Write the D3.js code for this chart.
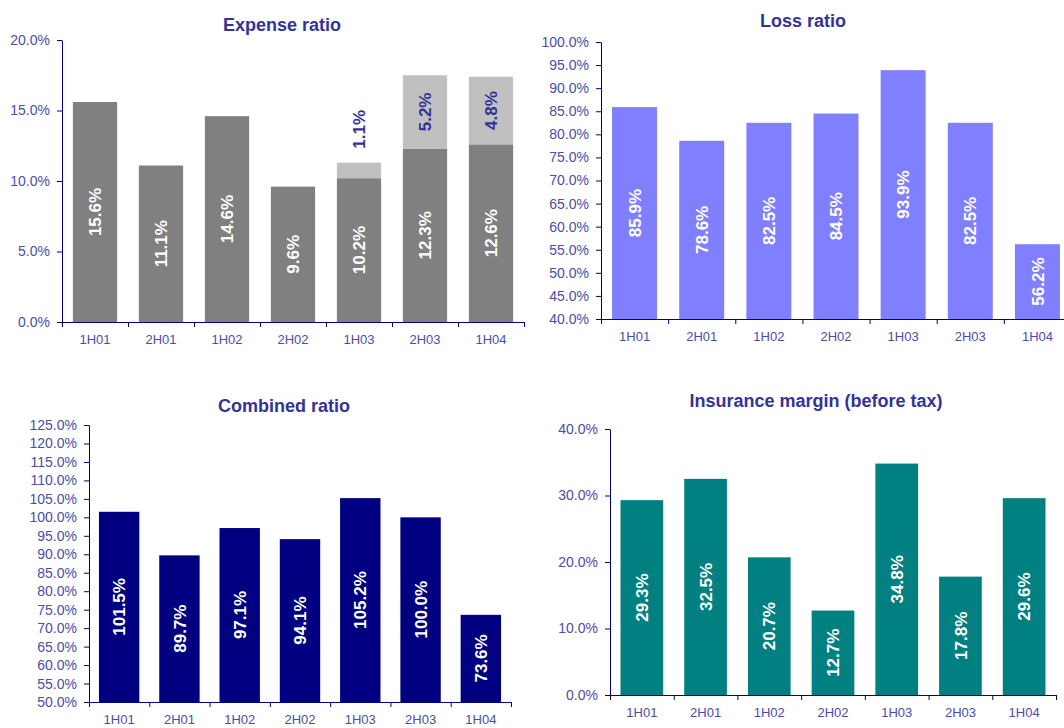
<!DOCTYPE html>
<html>
<head>
<meta charset="utf-8">
<script src="https://cdn.jsdelivr.net/npm/d3@7"></script>
<style>
  body { margin: 0; background: #fff; }
  svg { display: block; font-family: 'Liberation Sans', Arial, sans-serif; }
</style>
</head>
<body>
<svg id="chart" width="1064" height="728"></svg>
<script>
// data
const categories = ['1H01', '2H01', '1H02', '2H02', '1H03', '2H03', '1H04'];
const expenseBase = [15.6, 11.1, 14.6, 9.6, 10.2, 12.3, 12.6];
const expenseExtra = [0, 0, 0, 0, 1.1, 5.2, 4.8];
const lossRatio = [85.9, 78.6, 82.5, 84.5, 93.9, 82.5, 56.2];
const combinedRatio = [101.5, 89.7, 97.1, 94.1, 105.2, 100.0, 73.6];
const insuranceMargin = [29.3, 32.5, 20.7, 12.7, 34.8, 17.8, 29.6];

const axisColor = '#000080';
const tickTextColor = '#4d4da6';
const titleColor = '#333399';

const svg = d3.select('#chart');
const pct = (d) => `${d.toFixed(1)}%`;

const drawPanel = (cfg) => {
  const g = svg.append('g');

  const y = d3.scaleLinear()
    .domain(cfg.domain)
    .range([cfg.bottom, cfg.top]);

  const x = d3.scaleBand()
    .domain(categories)
    .range([cfg.left, cfg.right])
    .paddingInner(0.33)
    .paddingOuter(0.165);

  // first series starts at the bottom of the axis, the rest stack on top
  const cum = categories.map(() => null);
  cfg.series.forEach((s) => {
    const segs = s.values.map((v, i) => {
      const y0 = cum[i] === null ? cfg.domain[0] : cum[i];
      const y1 = cum[i] === null ? v : cum[i] + v;
      cum[i] = y1;
      return { cat: categories[i], v, y0, y1 };
    }).filter((d) => d.v > 0);

    g.append('g')
      .selectAll('rect')
      .data(segs)
      .join('rect')
      .attr('x', (d) => x(d.cat))
      .attr('width', x.bandwidth())
      .attr('y', (d) => y(d.y1))
      .attr('height', (d) => y(d.y0) - y(d.y1))
      .attr('fill', s.color);

    // small segments get their label above the bar
    const small = (d) => y(d.y0) - y(d.y1) < 50;
    g.append('g')
      .selectAll('text')
      .data(segs)
      .join('text')
      .attr('transform', (d) => {
        const cx = x(d.cat) + x.bandwidth() / 2;
        const cy = small(d) ? y(d.y1) - 14 : (y(d.y0) + y(d.y1)) / 2;
        return `translate(${cx},${cy}) rotate(-90)`;
      })
      .attr('text-anchor', (d) => (small(d) ? 'start' : 'middle'))
      .attr('dy', '0.36em')
      .attr('fill', s.labelColor)
      .attr('font-size', 17)
      .attr('font-weight', 'bold')
      .text((d) => pct(d.v));
  });

  // y axis
  const yAxis = g.append('g')
    .attr('transform', `translate(${cfg.left},0)`)
    .call(d3.axisLeft(y)
      .tickValues(d3.range(cfg.domain[0], cfg.domain[1] + cfg.step / 2, cfg.step))
      .tickFormat(pct)
      .tickSize(5)
      .tickSizeOuter(0)
      .tickPadding(7));
  yAxis.select('.domain').attr('stroke', axisColor);
  yAxis.selectAll('.tick line').attr('stroke', axisColor);
  yAxis.selectAll('.tick text')
    .attr('fill', tickTextColor)
    .attr('font-size', 14)
    .attr('font-family', "'Liberation Sans', Arial, sans-serif");

  // x axis labels
  const xAxis = g.append('g')
    .attr('transform', `translate(0,${cfg.bottom})`)
    .call(d3.axisBottom(x).tickSize(0).tickPadding(13));
  xAxis.select('.domain').remove();
  xAxis.selectAll('.tick text')
    .attr('fill', tickTextColor)
    .attr('font-size', 13)
    .attr('font-family', "'Liberation Sans', Arial, sans-serif");

  // x axis line, ticks sit on the category boundaries
  const xb = d3.scaleLinear().domain([0, categories.length]).range([cfg.left, cfg.right]);
  const xLine = g.append('g')
    .attr('transform', `translate(0,${cfg.bottom})`)
    .call(d3.axisBottom(xb)
      .tickValues(d3.range(categories.length + 1))
      .tickFormat('')
      .tickSize(5)
      .tickSizeOuter(0));
  xLine.select('.domain').attr('stroke', axisColor);
  xLine.selectAll('.tick line').attr('stroke', axisColor);

  g.append('text')
    .attr('x', cfg.titleX)
    .attr('y', cfg.titleY)
    .attr('text-anchor', 'middle')
    .attr('fill', titleColor)
    .attr('font-size', 18)
    .attr('font-weight', 'bold')
    .text(cfg.title);
};

drawPanel({
  title: 'Expense ratio', titleX: 282, titleY: 31,
  left: 62, right: 524, top: 40, bottom: 322,
  domain: [0, 20], step: 5,
  series: [
    { values: expenseBase, color: '#808080', labelColor: '#ffffff' },
    { values: expenseExtra, color: '#c0c0c0', labelColor: '#333399' },
  ],
});

drawPanel({
  title: 'Loss ratio', titleX: 803, titleY: 27,
  left: 601, right: 1071, top: 42, bottom: 319,
  domain: [40, 100], step: 5,
  series: [{ values: lossRatio, color: '#8080ff', labelColor: '#ffffff' }],
});

drawPanel({
  title: 'Combined ratio', titleX: 284, titleY: 412,
  left: 89, right: 511, top: 425, bottom: 702,
  domain: [50, 125], step: 5,
  series: [{ values: combinedRatio, color: '#000080', labelColor: '#ffffff' }],
});

drawPanel({
  title: 'Insurance margin (before tax)', titleX: 816, titleY: 407,
  left: 610, right: 1056, top: 429, bottom: 695,
  domain: [0, 40], step: 10,
  series: [{ values: insuranceMargin, color: '#008080', labelColor: '#ffffff' }],
});
</script>
</body>
</html>
